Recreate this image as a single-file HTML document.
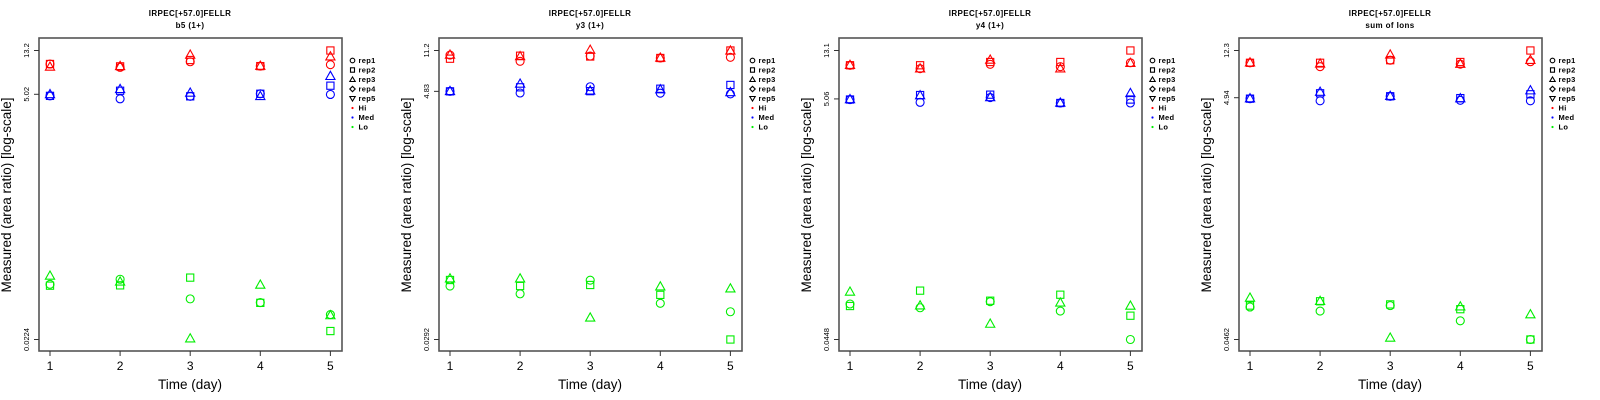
<!DOCTYPE html>
<html><head><meta charset="utf-8">
<style>
html,body{margin:0;padding:0;background:#fff;}
svg{display:block;font-family:"Liberation Sans",Arial,sans-serif;}
</style></head>
<body>
<svg id="chart" width="1600" height="400" viewBox="0 0 1600 400" xmlns="http://www.w3.org/2000/svg"></svg>
<script>
// ---- data ----
const days = [1, 2, 3, 4, 5];
const panelTitles = ["b5 (1+)", "y3 (1+)", "y4 (1+)", "sum of Ions"];
const peptide = "IRPEC[+57.0]FELLR";
const yMaxs = [13.2, 11.2, 13.1, 12.3];
const yMids = [5.02, 4.83, 5.06, 4.94];
const yMins = [0.0224, 0.0292, 0.0448, 0.0462];
const yTickLabels = [["13.2","5.02","0.0224"],["11.2","4.83","0.0292"],["13.1","5.06","0.0448"],["12.3","4.94","0.0462"]];

// panel 1 (b5)
const p1HiRep1 = [9.8, 9.1, 10.3, 9.35, 9.65];
const p1HiRep2 = [9.8, 9.3, 10.7, 9.35, 13.2];
const p1HiRep3 = [9.17, 9.3, 11.95, 9.35, 11.5];
const p1MedRep1 = [4.85, 4.54, 4.8, 5.08, 5.0];
const p1MedRep2 = [4.85, 5.43, 4.8, 5.08, 6.07];
const p1MedRep3 = [5.0, 5.6, 5.17, 4.8, 7.47];
const p1LoRep1 = [0.0757, 0.0847, 0.0549, 0.0506, 0.0388];
const p1LoRep2 = [0.0735, 0.074, 0.0878, 0.0503, 0.027];
const p1LoRep3 = [0.091, 0.080, 0.0228, 0.0746, 0.038];
// panel 2 (y3)
const p2HiRep1 = [10.2, 8.97, 10.0, 9.6, 9.74];
const p2HiRep2 = [9.46, 10.06, 9.9, 9.6, 11.2];
const p2HiRep3 = [10.2, 9.9, 11.3, 9.6, 11.1];
const p2MedRep1 = [4.83, 4.67, 5.31, 4.65, 4.58];
const p2MedRep2 = [4.83, 5.25, 4.85, 5.1, 5.51];
const p2MedRep3 = [4.83, 5.62, 4.88, 5.0, 4.72];
const p2LoRep1 = [0.0878, 0.0747, 0.099, 0.0615, 0.0517];
const p2LoRep2 = [0.0994, 0.0878, 0.0897, 0.0732, 0.0292];
const p2LoRep3 = [0.102, 0.102, 0.0456, 0.0865, 0.083];
// panel 3 (y4)
const p3HiRep1 = [9.8, 9.16, 9.99, 9.53, 10.3];
const p3HiRep2 = [9.8, 9.8, 10.45, 10.45, 13.1];
const p3HiRep3 = [9.8, 9.16, 10.87, 9.16, 10.2];
const p3MedRep1 = [5.0, 4.73, 5.2, 4.67, 4.67];
const p3MedRep2 = [5.0, 5.46, 5.5, 4.67, 5.0];
const p3MedRep3 = [5.0, 5.4, 5.2, 4.67, 5.64];
const p3LoRep1 = [0.090, 0.0836, 0.0942, 0.0783, 0.0448];
const p3LoRep2 = [0.0865, 0.117, 0.096, 0.108, 0.0715];
const p3LoRep3 = [0.114, 0.087, 0.0607, 0.092, 0.0865];
// panel 4 (sum of ions)
const p4HiRep1 = [9.7, 9.0, 10.2, 9.45, 9.9];
const p4HiRep2 = [9.7, 9.7, 10.2, 9.85, 12.3];
const p4HiRep3 = [9.7, 9.5, 11.3, 9.45, 10.2];
const p4MedRep1 = [4.85, 4.65, 5.08, 4.7, 4.65];
const p4MedRep2 = [4.85, 5.38, 5.08, 4.9, 5.28];
const p4MedRep3 = [4.85, 5.5, 5.08, 4.85, 5.66];
const p4LoRep1 = [0.0866, 0.080, 0.0889, 0.0663, 0.0462];
const p4LoRep2 = [0.089, 0.0967, 0.091, 0.083, 0.0462];
const p4LoRep3 = [0.103, 0.0967, 0.0476, 0.087, 0.0747];

const panelSeries = [
  [[p1HiRep1,p1HiRep2,p1HiRep3],[p1MedRep1,p1MedRep2,p1MedRep3],[p1LoRep1,p1LoRep2,p1LoRep3]],
  [[p2HiRep1,p2HiRep2,p2HiRep3],[p2MedRep1,p2MedRep2,p2MedRep3],[p2LoRep1,p2LoRep2,p2LoRep3]],
  [[p3HiRep1,p3HiRep2,p3HiRep3],[p3MedRep1,p3MedRep2,p3MedRep3],[p3LoRep1,p3LoRep2,p3LoRep3]],
  [[p4HiRep1,p4HiRep2,p4HiRep3],[p4MedRep1,p4MedRep2,p4MedRep3],[p4LoRep1,p4LoRep2,p4LoRep3]]
];
const groupNames = ["hi", "med", "lo"];
const groupColors = ["#ff0000", "#0000ff", "#00ee00"];
const repShapes = ["circle", "square", "triangle"];
const legendLabels = ["rep1","rep2","rep3","rep4","rep5","Hi","Med","Lo"];

// ---- drawing ----
const NS = "http://www.w3.org/2000/svg";
const svg = document.getElementById("chart");
function mk(tag, attrs, parent) {
  const e = document.createElementNS(NS, tag);
  for (const k in attrs) e.setAttribute(k, attrs[k]);
  (parent || svg).appendChild(e);
  return e;
}
function drawMarker(g, shape, cx, cy, color) {
  let m;
  if (shape === "circle") m = mk("circle", {cx: cx, cy: cy, r: 4, fill: "none", stroke: color, "stroke-width": 1.1}, g);
  else if (shape === "square") m = mk("rect", {x: cx - 3.6, y: cy - 3.6, width: 7.2, height: 7.2, fill: "none", stroke: color, "stroke-width": 1.1}, g);
  else if (shape === "triangle") m = mk("polygon", {points: (cx - 4.6) + "," + (cy + 3.2) + " " + (cx + 4.6) + "," + (cy + 3.2) + " " + cx + "," + (cy - 5)}, g);
  else if (shape === "diamond") m = mk("polygon", {points: cx + "," + (cy - 3) + " " + (cx + 3) + "," + cy + " " + cx + "," + (cy + 3) + " " + (cx - 3) + "," + cy}, g);
  else m = mk("polygon", {points: (cx - 3) + "," + (cy - 2.2) + " " + (cx + 3) + "," + (cy - 2.2) + " " + cx + "," + (cy + 2.8)}, g);
  if (shape !== "circle" && shape !== "square") { m.setAttribute("fill", "none"); m.setAttribute("stroke", color); m.setAttribute("stroke-width", 1.1); }
  return m;
}

const boxL = 39, boxR = 342, boxT = 38, boxB = 351;
const plotTop = 50.5, plotBot = 339.5;
const xAt = d => 50 + (d - 1) * 70.1;

for (let p = 0; p < 4; p++) {
  const ox = p * 400;
  const g = mk("g", {transform: "translate(" + ox + ",0)"});
  
  
  const lmax = Math.log(yMaxs[p]), lmin = Math.log(yMins[p]);
  const yAt = v => plotTop + (lmax - Math.log(v)) / (lmax - lmin) * (plotBot - plotTop);

  const t1 = mk("text", {x: 190, y: 16, "text-anchor": "middle", "font-size": 8, "font-weight": "bold", "letter-spacing": "0.4"}, g);
  t1.textContent = peptide;
  
  
  const t2 = mk("text", {x: 190, y: 28, "text-anchor": "middle", "font-size": 8, "font-weight": "bold", "letter-spacing": "0.4"}, g);
  t2.textContent = panelTitles[p];
  
  

  const box = mk("rect", {x: boxL, y: boxT, width: boxR - boxL, height: boxB - boxT, fill: "none", stroke: "#555", "stroke-width": 1.6}, g);
  
  

  // y ticks
  const yVals = [yMaxs[p], yMids[p], yMins[p]];
  yVals.forEach((v, i) => {
    const y = yAt(v);
    const tk = mk("line", {x1: boxL - 5, x2: boxL, y1: y, y2: y, stroke: "#333", "stroke-width": 1}, g);
    
    
    const tl = mk("text", {x: 29, y: y, "text-anchor": "middle", "font-size": 7.5, transform: "rotate(-90 29 " + y + ")"}, g);
    tl.textContent = yTickLabels[p][i];
    
    
  });
  // x ticks
  days.forEach(d => {
    const x = xAt(d);
    const tk = mk("line", {x1: x, x2: x, y1: boxB, y2: boxB + 5, stroke: "#333", "stroke-width": 1}, g);
    
    
    const tl = mk("text", {x: x, y: 370, "text-anchor": "middle", "font-size": 12}, g);
    tl.textContent = d;
    
    
  });
  const xt = mk("text", {x: 190, y: 389, "text-anchor": "middle", "font-size": 13.5}, g);
  xt.textContent = "Time (day)";
  
  
  const yt = mk("text", {x: 11, y: 195, "text-anchor": "middle", "font-size": 13.5, transform: "rotate(-90 11 195)"}, g);
  yt.textContent = "Measured (area ratio) [log-scale]";
  
  

  // points
  panelSeries[p].forEach((grp, gi) => {
    grp.forEach((vals, ri) => {
      vals.forEach((v, di) => {
        const m = drawMarker(g, repShapes[ri], xAt(days[di]), yAt(v), groupColors[gi]);
        
        
      });
    });
  });

  // legend
  const lg = mk("g", {}, g);
  
  
  const legShapes = ["circle","square","triangle","diamond","down"];
  legendLabels.forEach((lab, i) => {
    const y = 60.5 + i * 9.5;
    const e = mk("g", {}, lg);
    
    
    if (i < 5) {
      const s = legShapes[i];
      if (s === "circle") mk("circle", {cx: 352.5, cy: y, r: 2.3, fill: "none", stroke: "#000", "stroke-width": 1.1}, e);
      else if (s === "square") mk("rect", {x: 350.5, y: y - 2.2, width: 4, height: 4.4, fill: "none", stroke: "#000", "stroke-width": 1.1}, e);
      else if (s === "triangle") mk("polygon", {points: "349.8," + (y + 2) + " 355.2," + (y + 2) + " 352.5," + (y - 2.6), fill: "none", stroke: "#000", "stroke-width": 1.1}, e);
      else if (s === "diamond") mk("polygon", {points: "352.5," + (y - 2.7) + " 355.2," + y + " 352.5," + (y + 2.7) + " 349.8," + y, fill: "none", stroke: "#000", "stroke-width": 1.1}, e);
      else mk("polygon", {points: "349.8," + (y - 2) + " 355.2," + (y - 2) + " 352.5," + (y + 2.6), fill: "none", stroke: "#000", "stroke-width": 1.1}, e);
    } else {
      mk("circle", {cx: 352.5, cy: y, r: 1.1, fill: groupColors[i - 5]}, e);
    }
    const t = mk("text", {x: 358.5, y: y + 2.6, "font-size": 7.5, "font-weight": "bold", "letter-spacing": "0.3"}, e);
    t.textContent = lab;
  });
}
</script>
</body></html>
